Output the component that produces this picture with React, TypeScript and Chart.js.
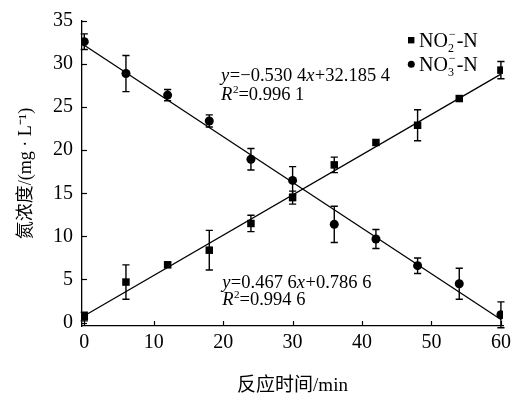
import React, { useEffect, useRef } from "react";
import { Chart, registerables } from "chart.js";

Chart.register(...registerables);

// ---- data ----
const times = [0, 6, 12, 18, 24, 30, 36, 42, 48, 54, 60];
const no2Values = [0.7, 4.7, 6.7, 8.4, 11.5, 14.5, 18.3, 20.9, 22.9, 26.0, 29.3];
const no2Errors = [0.5, 2.0, 0.3, 2.3, 0.95, 0.75, 0.9, 0, 1.8, 0, 1.0];
const no3Values = [32.6, 28.9, 26.4, 23.4, 18.95, 16.5, 11.4, 9.7, 6.6, 4.5, 0.9];
const no3Errors = [0.9, 2.1, 0.65, 0.7, 1.25, 1.6, 2.1, 1.1, 0.9, 1.8, 1.5];
const fitX = [0, 60];
const no2Fit = [0.79, 28.84];
const no3Fit = [32.19, 0.36];
const xTicks = [0, 10, 20, 30, 40, 50, 60];
const yTicks = [0, 5, 10, 15, 20, 25, 30, 35];

const legendLabels = [
  { base: "NO", sub: "2", sup: "−", tail: "-N", style: "rect" },
  { base: "NO", sub: "3", sup: "−", tail: "-N", style: "circle" },
];

type Run = { t: string; italic?: boolean; sup?: boolean };
const eqNO3: Run[][] = [
  [{ t: "y", italic: true }, { t: "=−0.530 4" }, { t: "x", italic: true }, { t: "+32.185 4" }],
  [{ t: "R", italic: true }, { t: "2", sup: true }, { t: "=0.996 1" }],
];
const eqNO2: Run[][] = [
  [{ t: "y", italic: true }, { t: "=0.467 6" }, { t: "x", italic: true }, { t: "+0.786 6" }],
  [{ t: "R", italic: true }, { t: "2", sup: true }, { t: "=0.994 6" }],
];
// anchor positions in data units
const eqNO3Anchor = [{ x: 19.7, y: 28.0 }, { x: 19.7, y: 25.8 }];
const eqNO2Anchor = [{ x: 19.85, y: 4.0 }, { x: 19.85, y: 2.0 }];

const FONT = "'Liberation Serif', 'Times New Roman', 'Noto Sans CJK SC', serif";

function drawRuns(ctx: CanvasRenderingContext2D, runs: Run[], x: number, y: number, size: number) {
  let cx = x;
  for (const r of runs) {
    const fs = r.sup ? size * 0.6 : size;
    ctx.font = `${r.italic ? "italic " : ""}${fs}px ${FONT}`;
    const dy = r.sup ? -size * 0.4 : 0;
    ctx.fillText(r.t, cx, y + dy);
    cx += ctx.measureText(r.t).width + (r.italic ? 0.5 : 0);
  }
}

const customPlugin = {
  id: "custom",
  beforeDatasetsDraw(chart: any) {
    const { ctx } = chart;
    const xs = chart.scales.x;
    const ys = chart.scales.y;
    ctx.save();
    ctx.strokeStyle = "#000";
    ctx.lineWidth = 1.4;
    const draw = (vals: number[], errs: number[]) => {
      vals.forEach((v, i) => {
        const e = errs[i];
        if (!e) return;
        const px = xs.getPixelForValue(times[i]);
        const top = ys.getPixelForValue(v + e);
        const bot = ys.getPixelForValue(v - e);
        ctx.beginPath();
        ctx.moveTo(px, top);
        ctx.lineTo(px, bot);
        ctx.moveTo(px - 3.6, top);
        ctx.lineTo(px + 3.6, top);
        ctx.moveTo(px - 3.6, bot);
        ctx.lineTo(px + 3.6, bot);
        ctx.stroke();
      });
    };
    draw(no2Values, no2Errors);
    draw(no3Values, no3Errors);
    ctx.restore();
  },
  afterDraw(chart: any) {
    const { ctx, chartArea } = chart;
    const xs = chart.scales.x;
    const ys = chart.scales.y;
    ctx.save();
    // inward ticks
    ctx.strokeStyle = "#000";
    ctx.lineWidth = 1.2;
    xTicks.forEach((v) => {
      const px = Math.round(xs.getPixelForValue(v)) + 0.5;
      ctx.beginPath();
      ctx.moveTo(px, chartArea.bottom);
      ctx.lineTo(px, chartArea.bottom - 5);
      ctx.stroke();
    });
    yTicks.forEach((v) => {
      const py = Math.round(ys.getPixelForValue(v)) + 0.5;
      ctx.beginPath();
      ctx.moveTo(chartArea.left, py);
      ctx.lineTo(chartArea.left + 5, py);
      ctx.stroke();
    });
    // equations
    ctx.fillStyle = "#000";
    ctx.textAlign = "left";
    ctx.textBaseline = "alphabetic";
    eqNO3.forEach((runs, i) => {
      drawRuns(ctx, runs, xs.getPixelForValue(eqNO3Anchor[i].x), ys.getPixelForValue(eqNO3Anchor[i].y), 18.5);
    });
    eqNO2.forEach((runs, i) => {
      drawRuns(ctx, runs, xs.getPixelForValue(eqNO2Anchor[i].x), ys.getPixelForValue(eqNO2Anchor[i].y), 18.5);
    });
    // legend
    const lx = chartArea.right - 92;
    legendLabels.forEach((lab, i) => {
      const base = chartArea.top + 26 + i * 23.5;
      ctx.fillStyle = "#000";
      if (lab.style === "rect") {
        ctx.fillRect(lx - 3, base - 10, 6.4, 6.4);
      } else {
        ctx.beginPath();
        ctx.arc(lx + 0.3, base - 6.3, 3.5, 0, Math.PI * 2);
        ctx.fill();
      }
      let cx = lx + 8;
      ctx.font = `20px ${FONT}`;
      ctx.fillText(lab.base, cx, base);
      cx += ctx.measureText(lab.base).width;
      ctx.font = `12px ${FONT}`;
      ctx.fillText(lab.sub, cx, base + 5);
      ctx.fillText(lab.sup, cx + 1, base - 9);
      cx += Math.max(ctx.measureText(lab.sub).width, ctx.measureText(lab.sup).width + 1) + 1;
      ctx.font = `20px ${FONT}`;
      ctx.fillText(lab.tail, cx, base);
    });
    ctx.restore();
  },
};

export default function App() {
  const ref = useRef<HTMLCanvasElement | null>(null);
  useEffect(() => {
    if (!ref.current) return;
    const chart = new Chart(ref.current, {
      type: "scatter",
      data: {
        datasets: [
          {
            label: "NO2-N",
            data: times.map((t, i) => ({ x: t, y: no2Values[i] })),
            pointStyle: "rect",
            pointRadius: 5.3,
            backgroundColor: "#000",
            borderColor: "#000",
            borderWidth: 0,
            order: 1,
          },
          {
            label: "NO3-N",
            data: times.map((t, i) => ({ x: t, y: no3Values[i] })),
            pointStyle: "circle",
            pointRadius: 4.5,
            backgroundColor: "#000",
            borderColor: "#000",
            borderWidth: 0,
            order: 1,
          },
          {
            label: "fit NO2",
            data: fitX.map((t, i) => ({ x: t, y: no2Fit[i] })),
            showLine: true,
            pointRadius: 0,
            borderColor: "#000",
            borderWidth: 1.3,
            order: 2,
          },
          {
            label: "fit NO3",
            data: fitX.map((t, i) => ({ x: t, y: no3Fit[i] })),
            showLine: true,
            pointRadius: 0,
            borderColor: "#000",
            borderWidth: 1.3,
            order: 2,
          },
        ],
      },
      options: {
        animation: false,
        responsive: false,
        devicePixelRatio: 1,
        layout: { padding: { top: 17, right: 23, left: 0, bottom: 0 } },
        plugins: { legend: { display: false }, tooltip: { enabled: false } },
        scales: {
          x: {
            type: "linear",
            min: -0.33,
            max: 60.3,
            afterBuildTicks: (s: any) => {
              s.ticks = xTicks.map((v) => ({ value: v }));
            },
            afterFit: (s: any) => {
              s.height = 67;
            },
            grid: { display: false, drawTicks: false },
            border: { display: true, color: "#000", width: 1.3 },
            ticks: { color: "#000", font: { family: FONT, size: 20 }, padding: 5, maxRotation: 0 },
            title: {
              display: true,
              text: "反应时间/min",
              color: "#000",
              font: { family: FONT, size: 19, lineHeight: 1 },
              padding: { top: 0, bottom: -3 },
            },
          },
          y: {
            type: "linear",
            min: -0.4,
            max: 35,
            afterBuildTicks: (s: any) => {
              s.ticks = yTicks.map((v) => ({ value: v }));
            },
            afterFit: (s: any) => {
              s.width = 82;
            },
            grid: { display: false, drawTicks: false },
            border: { display: true, color: "#000", width: 1.3 },
            ticks: { color: "#000", font: { family: FONT, size: 20 }, padding: 9 },
            title: {
              display: true,
              text: "氮浓度/(mg · L⁻¹)",
              color: "#000",
              font: { family: FONT, size: 18 },
              padding: { top: 15, bottom: 0 },
            },
          },
        },
      },
      plugins: [customPlugin],
    });
    return () => chart.destroy();
  }, []);
  return (
    <div style={{ position: "fixed", left: 0, top: 0, width: 526, height: 393, background: "#fff" }}>
      <canvas ref={ref} width={526} height={393} />
    </div>
  );
}
